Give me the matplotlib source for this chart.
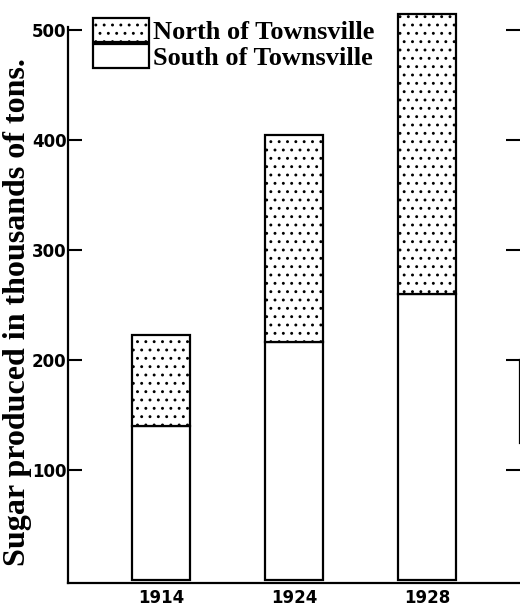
import matplotlib.pyplot as plt
from matplotlib.patches import Patch

years = ["1914", "1924", "1928"]
south = [140, 216, 260]
north = [83, 189, 255]   # stacked on top of south
yticks = [100, 200, 300, 400, 500]
series_labels = ["North of Townsville", "South of Townsville"]

plt.rcParams["hatch.linewidth"] = 0.9

fig = plt.figure(figsize=(5.2, 6.08), dpi=100)
ax = fig.add_axes([68 / 520, 1 - 583 / 608, 452 / 520, 583 / 608])

x = range(len(years))
ax.bar(x, south, width=0.43, color="white", edgecolor="black", linewidth=1.6)
ax.bar(x, north, bottom=south, width=0.43, color="white", edgecolor="black",
       linewidth=1.6, hatch="..")

ax.set_xlim(-0.7, 2.7)
ax.set_ylim(-2.7, 527.3)

ax.spines["top"].set_visible(False)
ax.spines["left"].set_bounds(-2.7, 503)
ax.spines["right"].set_bounds(125, 200)
for s in ["left", "bottom", "right"]:
    ax.spines[s].set_linewidth(1.6)

tick_font = ["Liberation Sans Narrow", "DejaVu Sans"]
ax.set_yticks(yticks)
ax.set_yticklabels([str(v) for v in yticks], family=tick_font,
                   fontweight="bold", fontsize=12)
ax.yaxis.set_ticks_position("both")
ax.tick_params(axis="y", direction="in", length=10, width=1.5, pad=1)
ax.set_xticks(list(x))
ax.set_xticklabels(years, family=tick_font, fontweight="bold", fontsize=12)
ax.tick_params(axis="x", length=0, pad=4)

fig.text(0.033, 0.487, "Sugar produced in thousands of tons.", rotation=90,
         ha="center", va="center", family="Liberation Serif",
         fontweight="bold", fontsize=23)

handles = [Patch(facecolor="white", edgecolor="black", hatch="..", linewidth=1.6),
           Patch(facecolor="white", edgecolor="black", linewidth=1.6)]
fig.legend(handles, series_labels, loc="upper left",
           bbox_to_anchor=(76 / 520, 1 - 1 / 608), frameon=False,
           prop={"family": "Liberation Serif", "weight": "bold", "size": 19},
           handlelength=2.1, handleheight=1.0, labelspacing=0,
           handletextpad=0.15, borderpad=0.15)

fig.savefig("out.png", dpi=100)
